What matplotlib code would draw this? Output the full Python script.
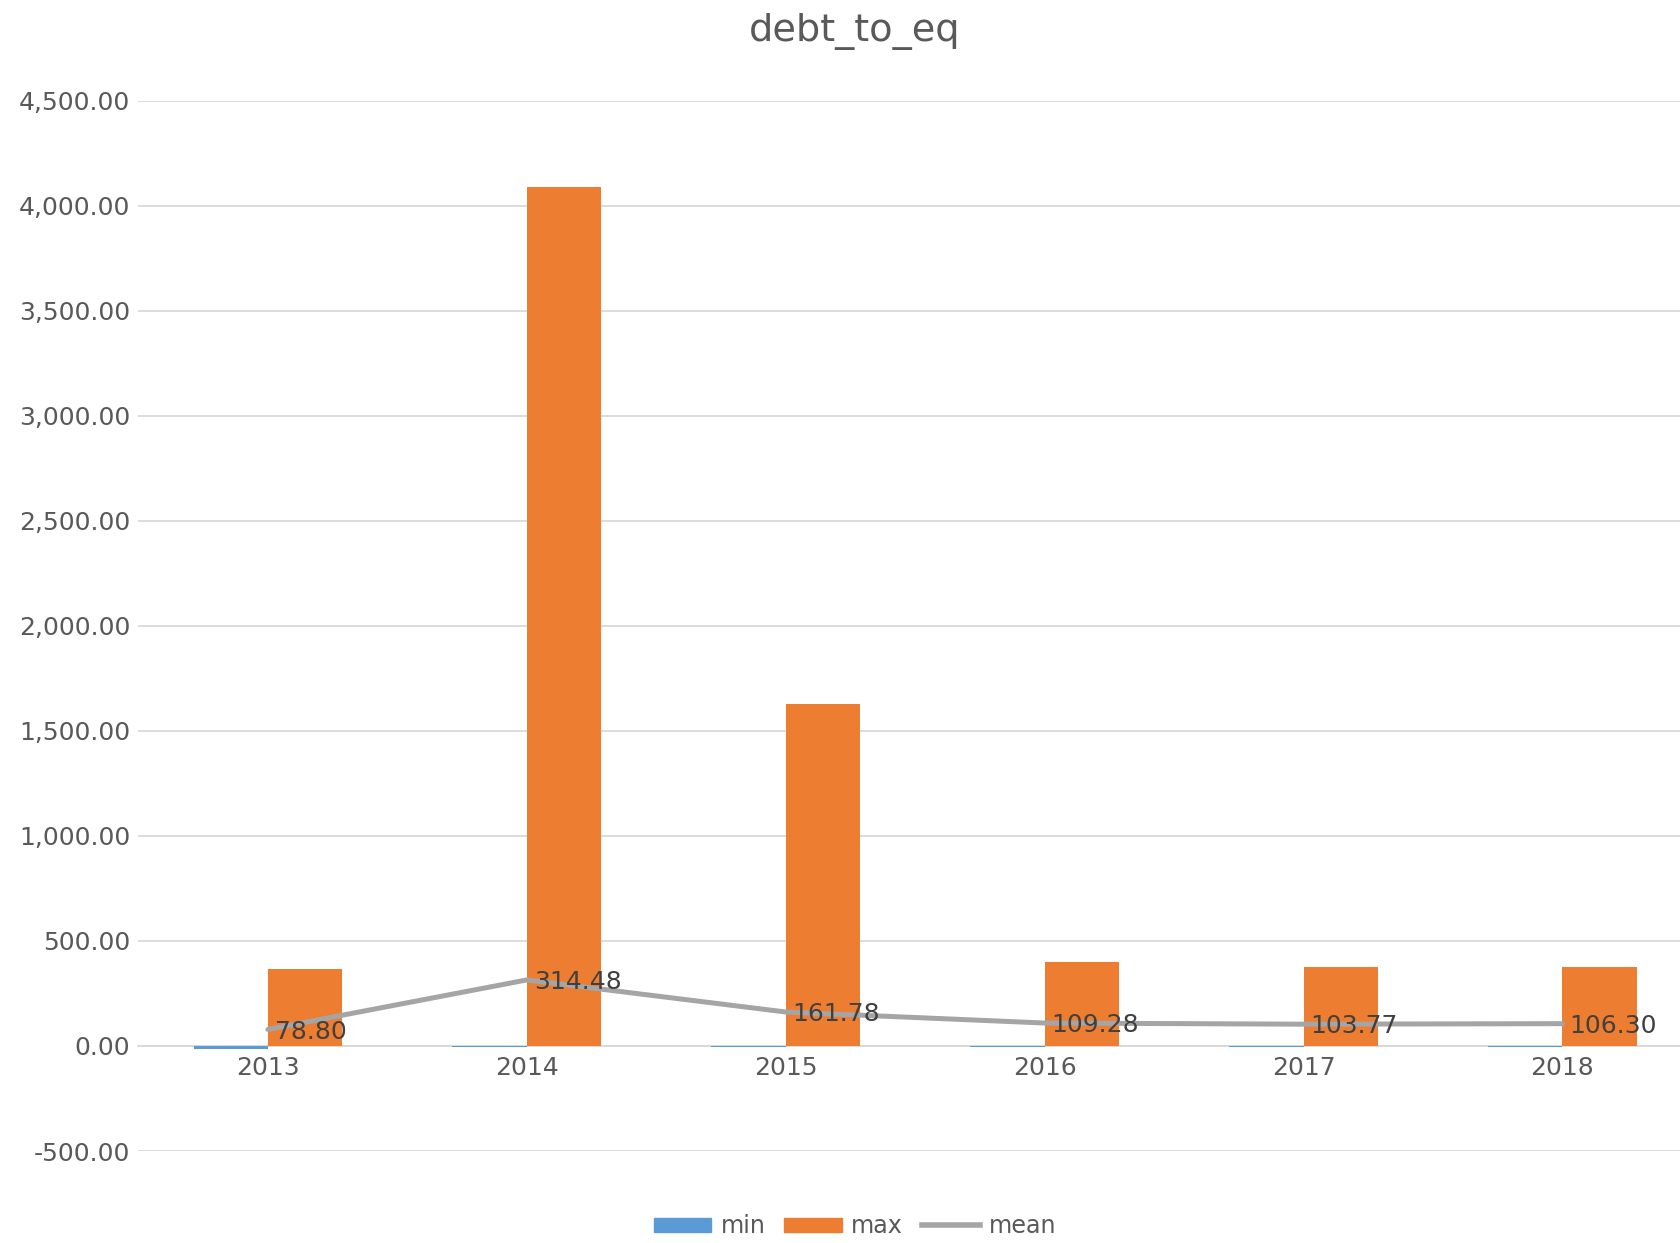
import numpy as np
import matplotlib.pyplot as plt
from matplotlib.patches import Patch
from matplotlib.lines import Line2D
from matplotlib.ticker import FuncFormatter

plt.rcParams['font.family'] = ['DejaVu Sans']

years = ['2013', '2014', '2015', '2016', '2017', '2018']
min_vals = [-14.0, -3.0, -3.0, -3.0, -3.0, -3.0]
max_vals = [367.0, 4087.0, 1627.0, 398.0, 378.0, 378.0]
mean_vals = [78.80, 314.48, 161.78, 109.28, 103.77, 106.30]

BLUE = '#5B9BD5'
ORANGE = '#ED7D31'
GREY = '#A5A5A5'
TXT = '#595959'

fig = plt.figure(figsize=(16.8, 12.43), dpi=100)
ax = fig.add_axes([0.0824, 0.074, 0.9247, 0.845])

x = np.arange(len(years))
w = 0.287
ax.bar(x - w / 2, min_vals, w, color=BLUE, zorder=2.6)
ax.bar(x + w / 2, max_vals, w, color=ORANGE, zorder=2.6)
ax.plot(x, mean_vals, color=GREY, lw=3.6, solid_capstyle='round', zorder=3)

for xi, v in zip(x, mean_vals):
    ax.annotate(f'{v:.2f}', (xi, v), xytext=(5, -1.5), textcoords='offset points',
                ha='left', va='center', fontsize=18, color='#404040', zorder=4)

ax.set_xlim(-0.5, 5.5)
ax.set_ylim(-500, 4500)
ax.set_yticks(np.arange(-500, 4501, 500))
ax.yaxis.set_major_formatter(FuncFormatter(lambda v, p: f'{v:,.2f}'))
ax.set_xticks(x)
ax.set_xticklabels(years)

ax.grid(axis='y', color='#D9D9D9', lw=1.3, zorder=0)
ax.set_axisbelow(True)
for s in ['top', 'right', 'left']:
    ax.spines[s].set_visible(False)
ax.spines['bottom'].set_position(('data', 0))
ax.spines['bottom'].set_color('#D9D9D9')
ax.spines['bottom'].set_linewidth(1.3)
ax.tick_params(axis='both', length=0, labelsize=18, labelcolor=TXT)
ax.tick_params(axis='y', pad=6)
ax.tick_params(axis='x', pad=7)

fig.text(0.509, 0.975, 'debt_to_eq', ha='center', va='center', fontsize=27.5, color=TXT)

handles = [Patch(color=BLUE), Patch(color=ORANGE), Line2D([], [], color=GREY, lw=4)]
fig.legend(handles, ['min', 'max', 'mean'], loc='center', bbox_to_anchor=(0.509, 0.0135),
           ncol=3, frameon=False, fontsize=17.2, labelcolor=TXT, handlelength=2.4,
           handleheight=0.55, columnspacing=0.8, handletextpad=0.4)

fig.savefig('out.png', dpi=100)
